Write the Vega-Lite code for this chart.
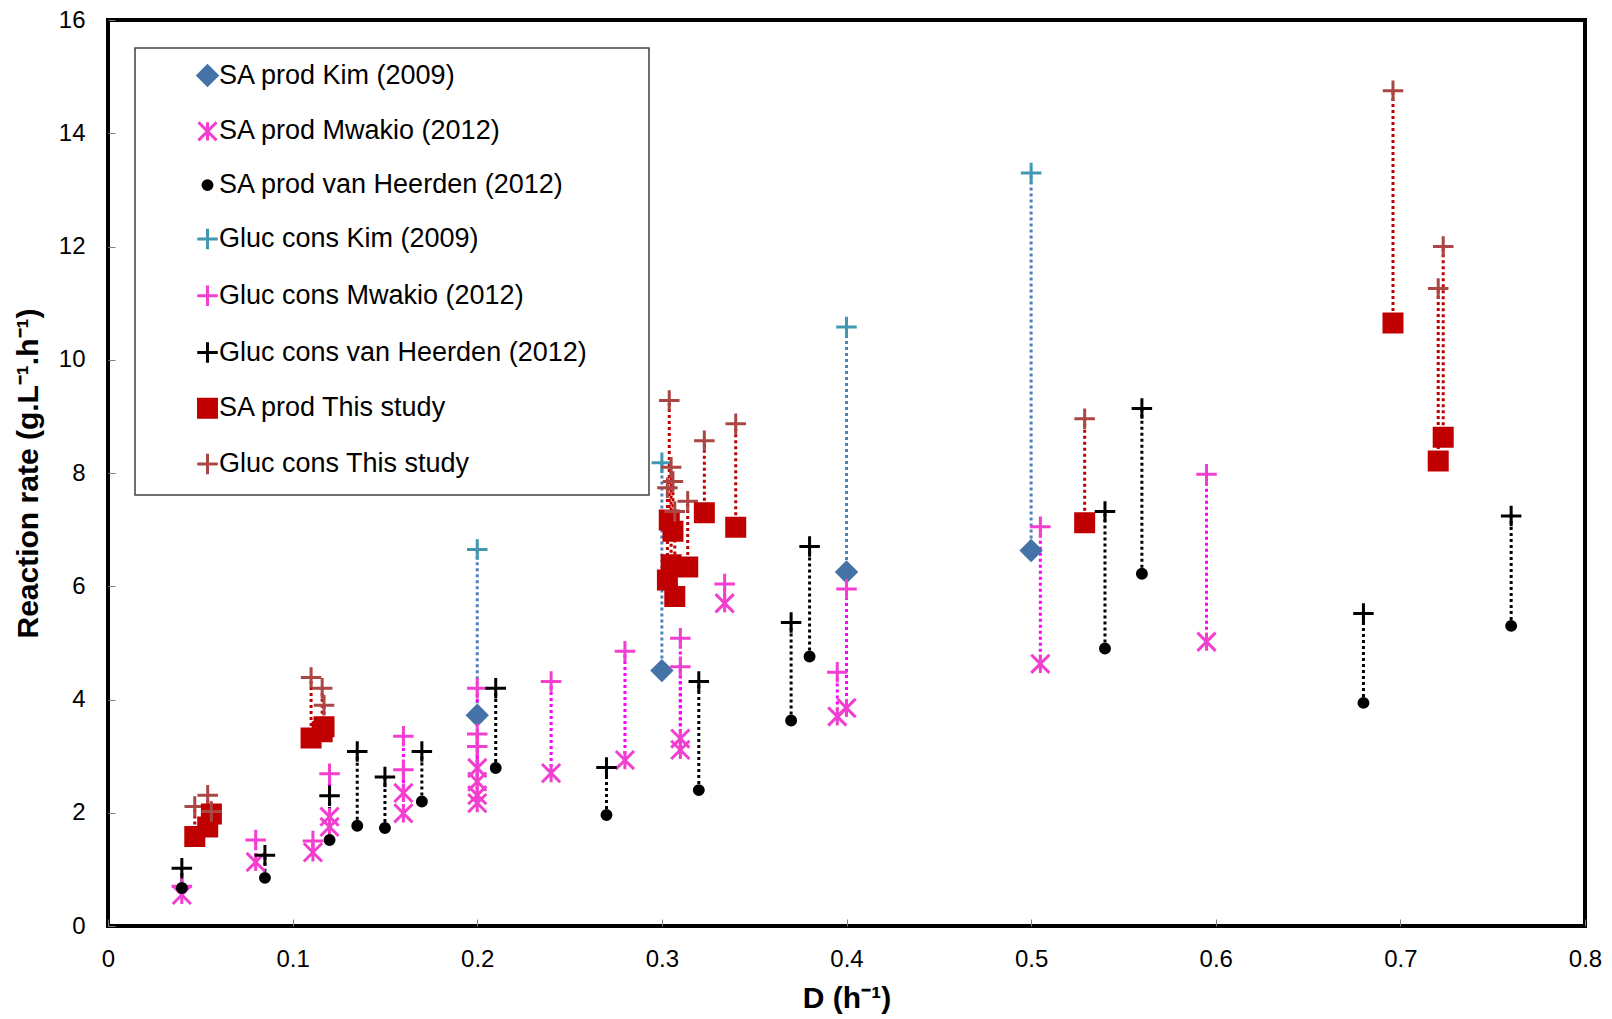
{
  "$schema": "https://vega.github.io/schema/vega-lite/v6.json",
  "width": 1477,
  "height": 906,
  "autosize": {"type": "none"},
  "padding": {"left": 108, "top": 20, "right": 27, "bottom": 93},
  "background": "white",
  "config": {
    "view": {"stroke": "#000000", "strokeWidth": 4},
    "font": "Liberation Sans",
    "axis": {
      "domain": false,
      "grid": false,
      "ticks": true,
      "tickSize": -7,
      "tickColor": "#808080",
      "tickWidth": 1,
      "labelFlush": false,
      "labelFont": "Liberation Sans",
      "labelFontSize": 24,
      "labelColor": "#000000",
      "titleFont": "Liberation Sans",
      "titleFontSize": 30,
      "titleFontWeight": "bold",
      "titleColor": "#000000"
    },
    "legend": {
      "orient": "none",
      "legendX": 27,
      "legendY": 28,
      "padding": 14,
      "strokeColor": "#404040",
      "strokeWidth": 1.5,
      "fillColor": "white",
      "labelFont": "Liberation Sans",
      "labelFontSize": 27,
      "labelColor": "#000000",
      "labelLimit": 0,
      "rowPadding": 23.8,
      "symbolOffset": 45,
      "labelOffset": -2,
      "symbolStrokeWidth": 3
    }
  },
  "data": {
    "values": [
      {"D": 0.2, "SA prod Kim (2009)": 3.72, "Gluc cons Kim (2009)": 6.65},
      {"D": 0.3, "SA prod Kim (2009)": 4.51, "Gluc cons Kim (2009)": 8.18},
      {"D": 0.4, "SA prod Kim (2009)": 6.25, "Gluc cons Kim (2009)": 10.58},
      {"D": 0.5, "SA prod Kim (2009)": 6.63, "Gluc cons Kim (2009)": 13.3},

      {"D": 0.04, "SA prod Mwakio (2012)": 0.55, "Gluc cons Mwakio (2012)": 0.7},
      {"D": 0.08, "SA prod Mwakio (2012)": 1.13, "Gluc cons Mwakio (2012)": 1.52},
      {"D": 0.111, "SA prod Mwakio (2012)": 1.3, "Gluc cons Mwakio (2012)": 1.5},
      {"D": 0.12, "SA prod Mwakio (2012)": 1.93, "Gluc cons Mwakio (2012)": 2.69},
      {"D": 0.12, "SA prod Mwakio (2012)": 1.75},
      {"D": 0.16, "SA prod Mwakio (2012)": 2.35, "Gluc cons Mwakio (2012)": 3.35},
      {"D": 0.16, "SA prod Mwakio (2012)": 1.99, "Gluc cons Mwakio (2012)": 2.76},
      {"D": 0.2, "SA prod Mwakio (2012)": 2.79, "Gluc cons Mwakio (2012)": 4.2},
      {"D": 0.2, "SA prod Mwakio (2012)": 2.55, "Gluc cons Mwakio (2012)": 3.39},
      {"D": 0.2, "SA prod Mwakio (2012)": 2.31, "Gluc cons Mwakio (2012)": 3.17},
      {"D": 0.2, "SA prod Mwakio (2012)": 2.17},
      {"D": 0.24, "SA prod Mwakio (2012)": 2.7, "Gluc cons Mwakio (2012)": 4.32},
      {"D": 0.28, "SA prod Mwakio (2012)": 2.93, "Gluc cons Mwakio (2012)": 4.85},
      {"D": 0.31, "SA prod Mwakio (2012)": 3.31, "Gluc cons Mwakio (2012)": 5.08},
      {"D": 0.31, "SA prod Mwakio (2012)": 3.11, "Gluc cons Mwakio (2012)": 4.58},
      {"D": 0.334, "SA prod Mwakio (2012)": 5.7, "Gluc cons Mwakio (2012)": 6.04},
      {"D": 0.395, "SA prod Mwakio (2012)": 3.7, "Gluc cons Mwakio (2012)": 4.48},
      {"D": 0.4, "SA prod Mwakio (2012)": 3.85, "Gluc cons Mwakio (2012)": 5.95},
      {"D": 0.505, "SA prod Mwakio (2012)": 4.63, "Gluc cons Mwakio (2012)": 7.05},
      {"D": 0.595, "SA prod Mwakio (2012)": 5.02, "Gluc cons Mwakio (2012)": 7.98},

      {"D": 0.04, "SA prod van Heerden (2012)": 0.67, "Gluc cons van Heerden (2012)": 1.02},
      {"D": 0.085, "SA prod van Heerden (2012)": 0.85, "Gluc cons van Heerden (2012)": 1.25},
      {"D": 0.12, "SA prod van Heerden (2012)": 1.52, "Gluc cons van Heerden (2012)": 2.3},
      {"D": 0.135, "SA prod van Heerden (2012)": 1.77, "Gluc cons van Heerden (2012)": 3.08},
      {"D": 0.15, "SA prod van Heerden (2012)": 1.73, "Gluc cons van Heerden (2012)": 2.63},
      {"D": 0.17, "SA prod van Heerden (2012)": 2.2, "Gluc cons van Heerden (2012)": 3.08},
      {"D": 0.21, "SA prod van Heerden (2012)": 2.79, "Gluc cons van Heerden (2012)": 4.2},
      {"D": 0.27, "SA prod van Heerden (2012)": 1.96, "Gluc cons van Heerden (2012)": 2.8},
      {"D": 0.32, "SA prod van Heerden (2012)": 2.4, "Gluc cons van Heerden (2012)": 4.32},
      {"D": 0.37, "SA prod van Heerden (2012)": 3.63, "Gluc cons van Heerden (2012)": 5.36},
      {"D": 0.38, "SA prod van Heerden (2012)": 4.76, "Gluc cons van Heerden (2012)": 6.7},
      {"D": 0.54, "SA prod van Heerden (2012)": 4.9, "Gluc cons van Heerden (2012)": 7.32},
      {"D": 0.56, "SA prod van Heerden (2012)": 6.22, "Gluc cons van Heerden (2012)": 9.14},
      {"D": 0.68, "SA prod van Heerden (2012)": 3.94, "Gluc cons van Heerden (2012)": 5.52},
      {"D": 0.76, "SA prod van Heerden (2012)": 5.3, "Gluc cons van Heerden (2012)": 7.24},

      {"D": 0.047, "SA prod This study": 1.58, "Gluc cons This study": 2.11},
      {"D": 0.054, "SA prod This study": 1.75, "Gluc cons This study": 2.31},
      {"D": 0.056, "SA prod This study": 1.98, "Gluc cons This study": 2.02},
      {"D": 0.11, "SA prod This study": 3.32, "Gluc cons This study": 4.39},
      {"D": 0.116, "SA prod This study": 3.43, "Gluc cons This study": 4.2},
      {"D": 0.117, "SA prod This study": 3.52, "Gluc cons This study": 3.9},
      {"D": 0.304, "SA prod This study": 7.17, "Gluc cons This study": 9.28},
      {"D": 0.306, "SA prod This study": 6.97, "Gluc cons This study": 7.85},
      {"D": 0.305, "SA prod This study": 6.38, "Gluc cons This study": 8.1},
      {"D": 0.314, "SA prod This study": 6.34, "Gluc cons This study": 7.5},
      {"D": 0.303, "SA prod This study": 6.11, "Gluc cons This study": 7.74},
      {"D": 0.307, "SA prod This study": 5.82, "Gluc cons This study": 7.32},
      {"D": 0.323, "SA prod This study": 7.3, "Gluc cons This study": 8.57},
      {"D": 0.34, "SA prod This study": 7.04, "Gluc cons This study": 8.87},
      {"D": 0.529, "SA prod This study": 7.12, "Gluc cons This study": 8.96},
      {"D": 0.696, "SA prod This study": 10.65, "Gluc cons This study": 14.75},
      {"D": 0.7232, "SA prod This study": 8.63, "Gluc cons This study": 12.0},
      {"D": 0.7205, "SA prod This study": 8.21, "Gluc cons This study": 11.26}
    ]
  },
  "encoding": {
    "x": {
      "field": "D", "type": "quantitative",
      "scale": {"domain": [0, 0.8], "nice": false},
      "axis": {"values": [0, 0.1, 0.2, 0.3, 0.4, 0.5, 0.6, 0.7, 0.8], "format": "~g", "labelPadding": 28, "title": "D (h⁻¹)", "titlePadding": 12}
    }
  },
  "layer": [
    {
      "mark": {"type": "rule", "strokeDash": [3, 3], "strokeWidth": 3, "color": "#4F81BD"},
      "encoding": {
        "y": {"field": "SA prod Kim (2009)", "type": "quantitative", "scale": {"domain": [0, 16], "nice": false}, "axis": {"values": [0, 2, 4, 6, 8, 10, 12, 14, 16], "format": "~g", "labelPadding": 30, "title": "Reaction rate (g.L⁻¹.h⁻¹)", "titlePadding": 15}},
        "y2": {"field": "Gluc cons Kim (2009)"}
      }
    },
    {
      "mark": {"type": "rule", "strokeDash": [3, 3], "strokeWidth": 3, "color": "#FF00FF"},
      "encoding": {
        "y": {"field": "SA prod Mwakio (2012)", "type": "quantitative", "scale": {"domain": [0, 16], "nice": false}, "axis": {"values": [0, 2, 4, 6, 8, 10, 12, 14, 16], "format": "~g", "labelPadding": 30, "title": "Reaction rate (g.L⁻¹.h⁻¹)", "titlePadding": 15}},
        "y2": {"field": "Gluc cons Mwakio (2012)"}
      }
    },
    {
      "mark": {"type": "rule", "strokeDash": [3, 3], "strokeWidth": 3, "color": "#000000"},
      "encoding": {
        "y": {"field": "SA prod van Heerden (2012)", "type": "quantitative", "scale": {"domain": [0, 16], "nice": false}, "axis": {"values": [0, 2, 4, 6, 8, 10, 12, 14, 16], "format": "~g", "labelPadding": 30, "title": "Reaction rate (g.L⁻¹.h⁻¹)", "titlePadding": 15}},
        "y2": {"field": "Gluc cons van Heerden (2012)"}
      }
    },
    {
      "mark": {"type": "rule", "strokeDash": [3, 3], "strokeWidth": 3, "color": "#C00000"},
      "encoding": {
        "y": {"field": "SA prod This study", "type": "quantitative", "scale": {"domain": [0, 16], "nice": false}, "axis": {"values": [0, 2, 4, 6, 8, 10, 12, 14, 16], "format": "~g", "labelPadding": 30, "title": "Reaction rate (g.L⁻¹.h⁻¹)", "titlePadding": 15}},
        "y2": {"field": "Gluc cons This study"}
      }
    },
    {
      "transform": [
        {"fold": ["SA prod Kim (2009)", "SA prod Mwakio (2012)", "SA prod van Heerden (2012)", "Gluc cons Kim (2009)", "Gluc cons Mwakio (2012)", "Gluc cons van Heerden (2012)", "SA prod This study", "Gluc cons This study"], "as": ["series", "rate"]},
        {"filter": "isValid(datum.rate)"}
      ],
      "mark": {"type": "point", "strokeWidth": 3, "opacity": 1},
      "encoding": {
        "y": {
          "field": "rate", "type": "quantitative",
          "scale": {"domain": [0, 16], "nice": false},
          "axis": {"values": [0, 2, 4, 6, 8, 10, 12, 14, 16], "format": "~g", "labelPadding": 30, "title": "Reaction rate (g.L⁻¹.h⁻¹)", "titlePadding": 15}
        },
        "shape": {
          "field": "series", "type": "nominal",
          "scale": {
            "domain": ["SA prod Kim (2009)", "SA prod Mwakio (2012)", "SA prod van Heerden (2012)", "Gluc cons Kim (2009)", "Gluc cons Mwakio (2012)", "Gluc cons van Heerden (2012)", "SA prod This study", "Gluc cons This study"],
            "range": ["diamond", "M-1,-1L1,1M-1,1L1,-1M0,-1L0,1", "circle", "M-1,0L1,0M0,-1L0,1", "M-1,0L1,0M0,-1L0,1", "M-1,0L1,0M0,-1L0,1", "square", "M-1,0L1,0M0,-1L0,1"]
          },
          "legend": {"title": null, "labelExpr": "datum.label + '\u00a0\u2800\u2800'"}
        },
        "fill": {
          "field": "series", "type": "nominal",
          "scale": {
            "domain": ["SA prod Kim (2009)", "SA prod Mwakio (2012)", "SA prod van Heerden (2012)", "Gluc cons Kim (2009)", "Gluc cons Mwakio (2012)", "Gluc cons van Heerden (2012)", "SA prod This study", "Gluc cons This study"],
            "range": ["#4572A7", "transparent", "#000000", "transparent", "transparent", "transparent", "#C00000", "transparent"]
          }
        },
        "stroke": {
          "field": "series", "type": "nominal",
          "scale": {
            "domain": ["SA prod Kim (2009)", "SA prod Mwakio (2012)", "SA prod van Heerden (2012)", "Gluc cons Kim (2009)", "Gluc cons Mwakio (2012)", "Gluc cons van Heerden (2012)", "SA prod This study", "Gluc cons This study"],
            "range": ["#4572A7", "#F23FD0", "#000000", "#4198AF", "#F23FD0", "#000000", "#C00000", "#AA4643"]
          }
        },
        "size": {
          "field": "series", "type": "nominal",
          "scale": {
            "type": "ordinal",
            "domain": ["SA prod Kim (2009)", "SA prod Mwakio (2012)", "SA prod van Heerden (2012)", "Gluc cons Kim (2009)", "Gluc cons Mwakio (2012)", "Gluc cons van Heerden (2012)", "SA prod This study", "Gluc cons This study"],
            "range": [370, 330, 80, 420, 420, 420, 324, 420]
          }
        }
      }
    }
  ]
}
